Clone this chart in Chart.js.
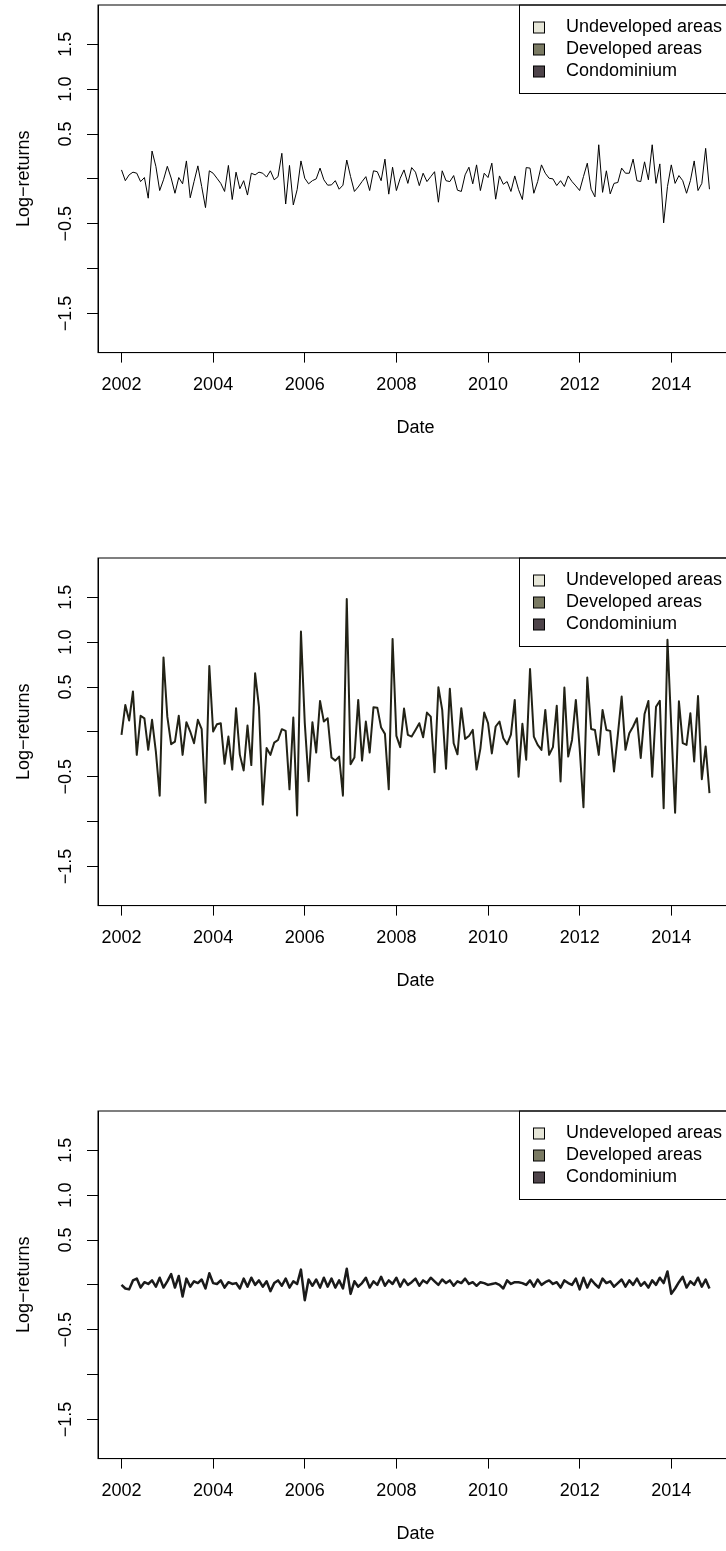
<!DOCTYPE html>
<html>
<head>
<meta charset="utf-8">
<script src="https://cdn.jsdelivr.net/npm/chart.js@4.4.1/dist/chart.umd.min.js"></script>
<style>
  html, body { margin: 0; padding: 0; background: #fff; overflow: hidden; }
  canvas { display: block; }
</style>
</head>
<body>
<canvas id="Chart1" width="740" height="553"></canvas>
<canvas id="Chart2" width="740" height="553"></canvas>
<canvas id="Chart3" width="740" height="553"></canvas>
<script>
// monthly log-returns, Jan 2002 .. Nov 2014
const firstYear = 2002;

const panel1Returns = [
  0.10, -0.02, 0.045, 0.075, 0.063, -0.03, 0.015, -0.215, 0.31, 0.14,
  -0.13, -0.01, 0.14, 0.01, -0.16, 0.015, -0.055, 0.20, -0.21, -0.03,
  0.145, -0.085, -0.32, 0.09, 0.063, 0.007, -0.05, -0.14, 0.15, -0.23,
  0.075, -0.11, -0.02, -0.18, 0.063, 0.045, 0.075, 0.063, 0.02, 0.09,
  -0.01, 0.025, 0.285, -0.28, 0.15, -0.29, -0.12, 0.20, 0.007, -0.055,
  -0.02, 0.0, 0.12, -0.01, -0.07, -0.067, -0.02, -0.115, -0.07, 0.21,
  0.025, -0.14, -0.09, -0.03, 0.025, -0.13, 0.09, 0.08, -0.02, 0.22,
  -0.17, 0.13, -0.13, 0.007, 0.10, -0.05, 0.126, 0.075, -0.075, 0.063,
  -0.03, 0.025, 0.08, -0.26, 0.09, -0.02, -0.03, 0.037, -0.126, -0.14,
  0.045, 0.13, -0.055, 0.156, -0.13, 0.063, 0.015, 0.175, -0.226, 0.033,
  -0.06, -0.03, -0.14, 0.033, -0.12, -0.23, 0.126, 0.12, -0.16, -0.03,
  0.156, 0.063, 0.007, 0.0, -0.074, -0.02, -0.085, 0.033, -0.03, -0.078,
  -0.13, 0.026, 0.175, -0.115, -0.2, 0.38, -0.15, 0.09, -0.167, -0.05,
  -0.04, 0.12, 0.063, 0.063, 0.22, -0.02, -0.03, 0.19, -0.01, 0.38,
  -0.05, 0.167, -0.49, -0.085, 0.156, -0.05, 0.037, -0.02, -0.16, -0.02,
  0.2, -0.13, -0.05, 0.34, -0.115
];

const panel2Returns = [
  -0.033, 0.30, 0.126, 0.45, -0.256, 0.18, 0.15, -0.20, 0.134, -0.22,
  -0.71, 0.83, 0.17, -0.137, -0.108, 0.18, -0.256, 0.108, 0.004, -0.126,
  0.134, 0.03, -0.79, 0.735, 0.004, 0.085, 0.097, -0.356, -0.052, -0.42,
  0.264, -0.256, -0.43, 0.07, -0.37, 0.653, 0.28, -0.81, -0.18, -0.256,
  -0.12, -0.09, 0.03, 0.011, -0.64, 0.16, -0.93, 1.117, 0.1, -0.55,
  0.108, -0.23, 0.345, 0.115, 0.152, -0.286, -0.32, -0.275, -0.71, 1.48,
  -0.36, -0.286, 0.356, -0.32, 0.115, -0.23, 0.275, 0.27, 0.048, -0.022,
  -0.64, 1.036, -0.045, -0.17, 0.26, -0.033, -0.052, 0.022, 0.097, -0.06,
  0.215, 0.17, -0.45, 0.497, 0.245, -0.41, 0.48, -0.126, -0.25, 0.264,
  -0.078, -0.045, 0.022, -0.42, -0.186, 0.215, 0.097, -0.24, 0.06, 0.115,
  -0.07, -0.137, -0.03, 0.356, -0.5, 0.09, -0.31, 0.70, -0.052, -0.145,
  -0.2, 0.245, -0.256, -0.17, 0.29, -0.553, 0.494, -0.275, -0.09, 0.356,
  -0.18, -0.84, 0.605, 0.033, 0.022, -0.256, 0.245, 0.022, 0.011, -0.44,
  -0.033, 0.393, -0.2, -0.015, 0.06, 0.152, -0.29, 0.2, 0.345, -0.5,
  0.28, 0.345, -0.85, 1.025, 0.05, -0.9, 0.34, -0.126, -0.145, 0.208,
  -0.33, 0.4, -0.527, -0.163, -0.683
];

const panel3Returns = [
  0.0, -0.04, -0.05, 0.05, 0.07, -0.03, 0.03, 0.01, 0.05, -0.02, 0.08, -0.03,
  0.04, 0.12, -0.03, 0.10, -0.13, 0.07, -0.02, 0.04, 0.02, 0.06, -0.04, 0.13,
  0.02, 0.01, 0.05, -0.03, 0.03, 0.01, 0.02, -0.04, 0.07, -0.02, 0.08, 0.0,
  0.05, -0.02, 0.04, -0.07, 0.02, 0.05, -0.01, 0.07, -0.03, 0.04, 0.01, 0.17,
  -0.17, 0.06, -0.01, 0.06, -0.03, 0.08, -0.02, 0.07, -0.03, 0.05, -0.04, 0.18,
  -0.1, 0.04, -0.02, 0.02, 0.08, -0.03, 0.04, 0.0, 0.09, -0.01, 0.05, 0.01,
  0.08, -0.02, 0.06, 0.0, 0.03, 0.07, -0.01, 0.05, 0.02, 0.08, 0.04, 0.0,
  0.06, 0.02, 0.05, -0.01, 0.04, 0.02, 0.07, 0.01, 0.03, -0.01, 0.03, 0.02,
  0.0, 0.01, 0.02, 0.0, -0.04, 0.05, 0.01, 0.03, 0.03, 0.02, 0.0, 0.05,
  -0.02, 0.06, 0.0, 0.03, 0.05, 0.01, 0.03, -0.03, 0.05, 0.02, 0.0, 0.07,
  -0.05, 0.08, -0.03, 0.06, 0.01, -0.03, 0.07, 0.02, 0.04, -0.02, 0.02, 0.06,
  -0.02, 0.05, 0.0, 0.07, -0.01, 0.03, -0.03, 0.05, 0.0, 0.08, 0.02, 0.15,
  -0.1, -0.04, 0.03, 0.09, -0.03, 0.04, 0.0, 0.08, -0.02, 0.06, -0.04
];

const xTicks = [2002, 2004, 2006, 2008, 2010, 2012, 2014];
const xTickLabels = ["2002", "2004", "2006", "2008", "2010", "2012", "2014"];
const yTicks = [-1.5, -1.0, -0.5, 0, 0.5, 1.0, 1.5];
const yTickLabels = ["\u22121.5", "", "\u22120.5", "", "0.5", "1.0", "1.5"];

const legendLabels = ["Undeveloped areas", "Developed areas", "Condominium"];
const legendColors = ["#e6e6d8", "#7a7a63", "#4e444a"];

const fontFamily = "'Liberation Sans', Arial, Helvetica, sans-serif";
const fontSize = 18;

// plot frame + legend box in the top right corner
const frameAndLegend = {
    id: "frameAndLegend",
    afterDraw(chart) {
        const ctx = chart.ctx;
        const area = chart.chartArea;
        ctx.save();
        ctx.strokeStyle = "#000";
        ctx.lineWidth = 1;
        ctx.strokeRect(area.left, area.top, area.right - area.left, area.bottom - area.top);

        const boxLeft = 519.5;
        const boxBottom = 93.5;
        ctx.strokeRect(boxLeft, area.top, area.right - boxLeft, boxBottom - area.top);

        ctx.font = fontSize + "px " + fontFamily;
        ctx.textBaseline = "middle";
        ctx.textAlign = "left";
        legendLabels.forEach((label, i) => {
            const y = 27.5 + i * 22;
            ctx.fillStyle = legendColors[i];
            ctx.fillRect(533.5, y - 5.5, 11, 11);
            ctx.strokeRect(533.5, y - 5.5, 11, 11);
            ctx.fillStyle = "#000";
            ctx.fillText(label, 566, y);
        });
        ctx.restore();
    }
};

function makePanel(canvasId, values, lineColor, lineWidth) {
    const points = values.map((v, i) => ({ x: firstYear + i / 12, y: v }));
    return new Chart(document.getElementById(canvasId), {
        type: "line",
        data: {
            datasets: [{
                data: points,
                borderColor: lineColor,
                borderWidth: lineWidth,
                pointRadius: 0,
                tension: 0,
                fill: false,
                borderJoinStyle: "round"
            }]
        },
        options: {
            responsive: false,
            animation: false,
            devicePixelRatio: 1,
            layout: { padding: { top: 5, left: 0, right: 7, bottom: 0 } },
            plugins: {
                legend: { display: false },
                tooltip: { enabled: false }
            },
            scales: {
                x: {
                    type: "linear",
                    min: 2001.487,
                    max: 2015.347,
                    afterBuildTicks: s => { s.ticks = xTicks.map(v => ({ value: v })); },
                    afterFit: s => { s.height = 200.4; s.paddingLeft = 0; s.paddingRight = 0; },
                    ticks: {
                        color: "#000",
                        font: { family: fontFamily, size: fontSize },
                        padding: 12,
                        maxRotation: 0,
                        autoSkip: false,
                        callback: (v) => xTickLabels[xTicks.indexOf(v)]
                    },
                    grid: { drawOnChartArea: false, tickLength: 10, color: "#000" },
                    border: { color: "#000", width: 1 },
                    title: {
                        display: true,
                        text: "Date",
                        color: "#000",
                        font: { family: fontFamily, size: fontSize },
                        padding: { top: 0, bottom: 114 }
                    }
                },
                y: {
                    min: -1.935,
                    max: 1.937,
                    afterBuildTicks: s => { s.ticks = yTicks.map(v => ({ value: v })); },
                    afterFit: s => { s.width = 98; s.paddingTop = 0; s.paddingBottom = 0; },
                    ticks: {
                        color: "#000",
                        font: { family: fontFamily, size: fontSize },
                        padding: 3,
                        minRotation: 90,
                        maxRotation: 90,
                        crossAlign: "center",
                        autoSkip: false,
                        callback: (v) => yTickLabels[yTicks.indexOf(v)]
                    },
                    grid: { drawOnChartArea: false, tickLength: 11, color: "#000" },
                    border: { color: "#000", width: 1 },
                    title: {
                        display: true,
                        text: "Log\u2212returns",
                        color: "#000",
                        font: { family: fontFamily, size: fontSize },
                        padding: { top: 13, bottom: 0 }
                    }
                }
            }
        },
        plugins: [frameAndLegend]
    });
}

makePanel("Chart1", panel1Returns, "#000000", 1);
makePanel("Chart2", panel2Returns, "#222216", 2);
makePanel("Chart3", panel3Returns, "#1a1a1a", 2.5);
</script>
</body>
</html>
